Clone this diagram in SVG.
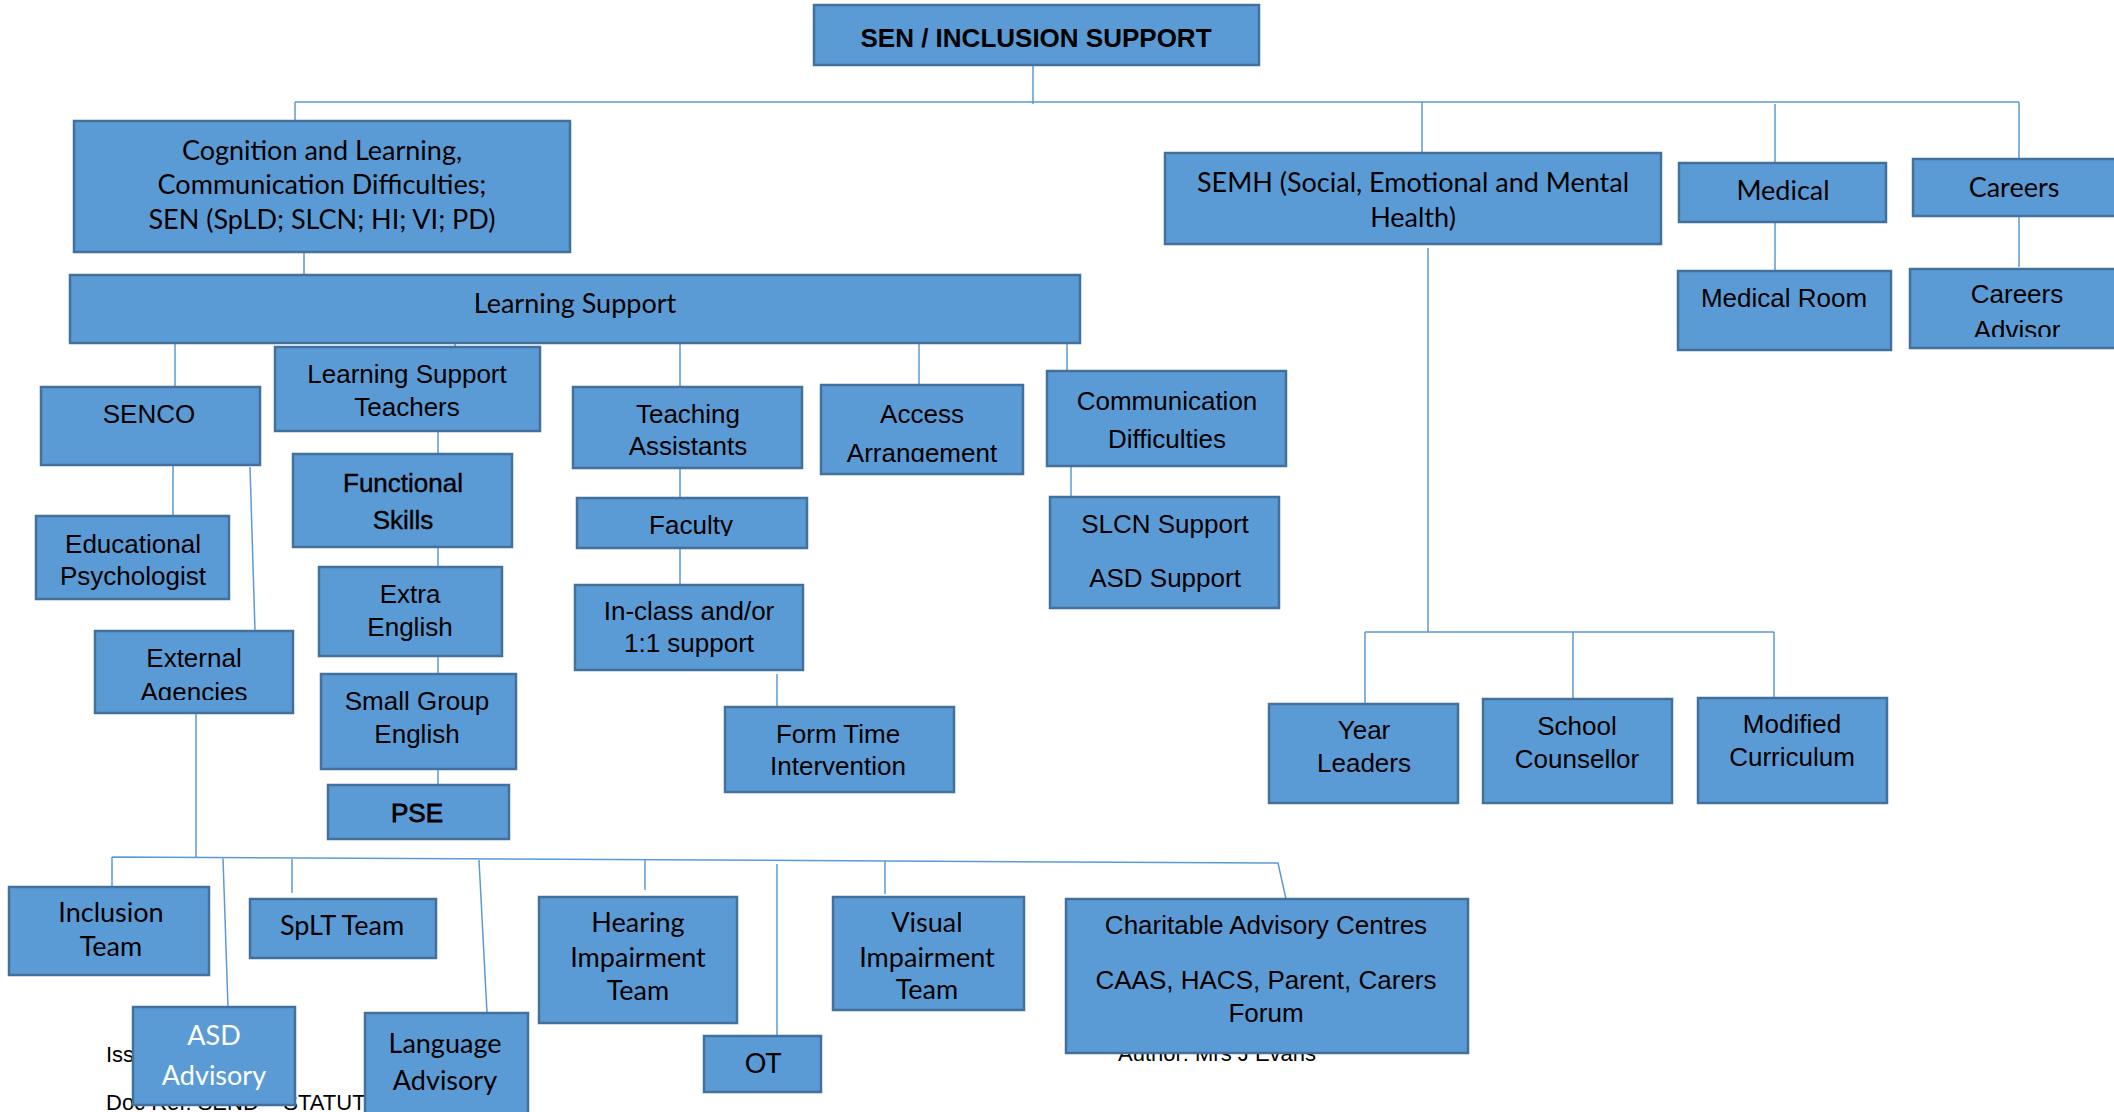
<svg xmlns="http://www.w3.org/2000/svg" width="2114" height="1112" viewBox="0 0 2114 1112">
<style>
.box{fill:#5B9BD5;stroke:#41719C;stroke-width:2.5}
.c{stroke:#5B9BD5;stroke-width:1.5;fill:none}
.a{font-family:"Liberation Sans",Arial,sans-serif;font-size:26px;text-anchor:middle;fill:#000}
.k{font-family:Lato,"Liberation Sans",sans-serif;font-size:27px;text-anchor:middle;fill:#000}
.f{font-family:"Liberation Sans",Arial,sans-serif;font-size:22px;fill:#000}
</style>
<defs>
<clipPath id="clipCA"><rect x="1900" y="260" width="230" height="77"/></clipPath>
<clipPath id="clipAA"><rect x="810" y="380" width="230" height="82"/></clipPath>
<clipPath id="clipFac"><rect x="570" y="490" width="250" height="46"/></clipPath>
<clipPath id="clipEA"><rect x="90" y="625" width="210" height="75"/></clipPath>
</defs>
<rect width="2114" height="1112" fill="#fff"/>
<g id="footer">
<text class="f" x="106" y="1062">Iss</text>
<text class="f" x="106" y="1110">Doc Ref:  SEND – STATUT</text>
<text class="f" x="1118" y="1061">Author: Mrs J Evans</text>
</g>
<g id="connectors">
<path class="c" d="M1033,66V104M295,102H2019M295,102V121M1422,102V153M1775,104V163M2019,102V159M1775,222V271M2019,216V267"/>
<path class="c" d="M304,252V275M175,343V387M455,343V347M680,343V387M919,343V385M1067,343V371"/>
<path class="c" d="M173,465V516M250,467L255,631M438,431V454M438,547V567M438,656V674M438,769V785"/>
<path class="c" d="M680,468V498M680,548V585M777,674V707M1071,466V497"/>
<path class="c" d="M1428,248V632M1365,632H1774M1365,632V704M1573,632V699M1774,632V698"/>
<path class="c" d="M196,713V857M112,857L1278,863L1286,899M112,857V887M223,858L228,1007M292,859V893M479,860L487,1013M645,860V890M777,864V1036M885,861V894"/>
</g>
<g id="n-title"><rect class="box" x="814" y="5" width="445" height="60"/><text class="a" x="1036" y="47" font-weight="bold">SEN / INCLUSION SUPPORT</text></g>
<g id="n-cognition"><rect class="box" x="74" y="121" width="496" height="131"/><text class="k" x="322" y="160">Cognition and Learning,</text><text class="k" x="322" y="194">Communication Difficulties;</text><text class="k" x="322" y="229">SEN (SpLD; SLCN; HI; VI; PD)</text></g>
<g id="n-learning-support"><rect class="box" x="70" y="275" width="1010" height="68"/><text class="k" x="575" y="313">Learning Support</text></g>
<g id="n-semh"><rect class="box" x="1165" y="153" width="496" height="91"/><text class="k" x="1413" y="192">SEMH (Social, Emotional and Mental</text><text class="k" x="1413" y="227">Health)</text></g>
<g id="n-medical"><rect class="box" x="1679" y="163" width="207" height="59"/><text class="k" x="1783" y="200">Medical</text></g>
<g id="n-careers"><rect class="box" x="1913" y="159" width="210" height="57"/><text class="k" x="2014" y="197">Careers</text></g>
<g id="n-medical-room"><rect class="box" x="1678" y="271" width="213" height="79"/><text class="a" x="1784" y="307">Medical Room</text></g>
<g id="n-careers-advisor"><rect class="box" x="1910" y="269" width="210" height="79"/><g clip-path="url(#clipCA)"><text class="a" x="2017" y="303">Careers</text><text class="a" x="2017" y="339">Advisor</text></g></g>
<g id="n-senco"><rect class="box" x="41" y="387" width="219" height="78"/><text class="a" x="149" y="423">SENCO</text></g>
<g id="n-ls-teachers"><rect class="box" x="275" y="347" width="265" height="84"/><text class="a" x="407" y="383">Learning Support</text><text class="a" x="407" y="416">Teachers</text></g>
<g id="n-teaching-assistants"><rect class="box" x="573" y="387" width="229" height="81"/><text class="a" x="688" y="423">Teaching</text><text class="a" x="688" y="455">Assistants</text></g>
<g id="n-access"><rect class="box" x="821" y="385" width="202" height="89"/><g clip-path="url(#clipAA)"><text class="a" x="922" y="423">Access</text><text class="a" x="922" y="462">Arrangement</text></g></g>
<g id="n-comm-diff"><rect class="box" x="1047" y="371" width="239" height="95"/><text class="a" x="1167" y="410">Communication</text><text class="a" x="1167" y="448">Difficulties</text></g>
<g id="n-functional"><rect class="box" x="293" y="454" width="219" height="93"/><text class="a" x="403" y="492" stroke="#000" stroke-width="0.4">Functional</text><text class="a" x="403" y="529" stroke="#000" stroke-width="0.4">Skills</text></g>
<g id="n-faculty"><rect class="box" x="577" y="498" width="230" height="50"/><g clip-path="url(#clipFac)"><text class="a" x="691" y="534">Faculty</text></g></g>
<g id="n-slcn"><rect class="box" x="1050" y="497" width="229" height="111"/><text class="a" x="1165" y="533">SLCN Support</text><text class="a" x="1165" y="587">ASD Support</text></g>
<g id="n-edpsych"><rect class="box" x="36" y="516" width="193" height="83"/><text class="a" x="133" y="553">Educational</text><text class="a" x="133" y="585">Psychologist</text></g>
<g id="n-extra-english"><rect class="box" x="319" y="567" width="183" height="89"/><text class="a" x="410" y="603">Extra</text><text class="a" x="410" y="636">English</text></g>
<g id="n-inclass"><rect class="box" x="575" y="585" width="228" height="85"/><text class="a" x="689" y="620">In-class and/or</text><text class="a" x="689" y="652">1:1 support</text></g>
<g id="n-external"><rect class="box" x="95" y="631" width="198" height="82"/><g clip-path="url(#clipEA)"><text class="a" x="194" y="667">External</text><text class="a" x="194" y="701">Agencies</text></g></g>
<g id="n-small-group"><rect class="box" x="321" y="674" width="195" height="95"/><text class="a" x="417" y="710">Small Group</text><text class="a" x="417" y="743">English</text></g>
<g id="n-form-time"><rect class="box" x="725" y="707" width="229" height="85"/><text class="a" x="838" y="743">Form Time</text><text class="a" x="838" y="775">Intervention</text></g>
<g id="n-pse"><rect class="box" x="328" y="785" width="181" height="54"/><text class="a" x="417" y="822" stroke="#000" stroke-width="0.8">PSE</text></g>
<g id="n-year-leaders"><rect class="box" x="1269" y="704" width="189" height="99"/><text class="a" x="1364" y="739">Year</text><text class="a" x="1364" y="772">Leaders</text></g>
<g id="n-school-counsellor"><rect class="box" x="1483" y="699" width="189" height="104"/><text class="a" x="1577" y="735">School</text><text class="a" x="1577" y="768">Counsellor</text></g>
<g id="n-modified"><rect class="box" x="1698" y="698" width="189" height="105"/><text class="a" x="1792" y="733">Modified</text><text class="a" x="1792" y="766">Curriculum</text></g>
<g id="n-inclusion"><rect class="box" x="9" y="887" width="200" height="88"/><text class="k" x="111" y="922">Inclusion</text><text class="k" x="111" y="956">Team</text></g>
<g id="n-splt"><rect class="box" x="250" y="899" width="186" height="59"/><text class="k" x="342" y="935">SpLT Team</text></g>
<g id="n-hearing"><rect class="box" x="539" y="897" width="198" height="126"/><text class="k" x="638" y="932">Hearing</text><text class="k" x="638" y="967">Impairment</text><text class="k" x="638" y="1000">Team</text></g>
<g id="n-visual"><rect class="box" x="833" y="897" width="191" height="113"/><text class="k" x="927" y="932">Visual</text><text class="k" x="927" y="967">Impairment</text><text class="k" x="927" y="999">Team</text></g>
<g id="n-asd"><rect class="box" x="133" y="1007" width="162" height="98"/><text class="k" x="214" y="1045" style="fill:#fff">ASD</text><text class="k" x="214" y="1085" style="fill:#fff">Advisory</text></g>
<g id="n-language"><rect class="box" x="365" y="1013" width="163" height="110"/><text class="k" x="445" y="1053">Language</text><text class="k" x="445" y="1090">Advisory</text></g>
<g id="n-ot"><rect class="box" x="704" y="1036" width="117" height="56"/><text class="k" x="763" y="1073">OT</text></g>
<g id="n-charitable"><rect class="box" x="1066" y="899" width="402" height="154"/><text class="a" x="1266" y="934">Charitable Advisory Centres</text><text class="a" x="1266" y="989">CAAS, HACS, Parent, Carers</text><text class="a" x="1266" y="1022">Forum</text></g>
</svg>
